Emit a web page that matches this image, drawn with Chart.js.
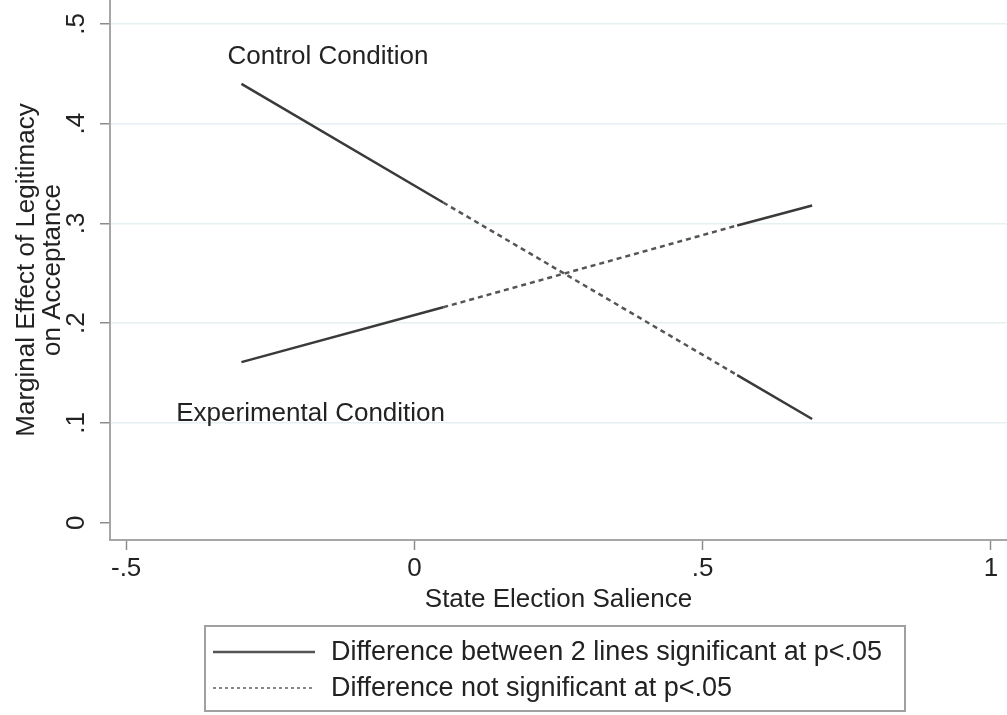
<!DOCTYPE html>
<html>
<head>
<meta charset="utf-8">
<script src="https://cdn.jsdelivr.net/npm/chart.js@4.4.0/dist/chart.umd.min.js"></script>
<style>
  html, body { margin: 0; padding: 0; background: #fff; }
  #wrap { position: relative; width: 1007px; height: 715px; }
  #legend {
    position: absolute; left: 204px; top: 625px; width: 702px; height: 87px;
    box-sizing: border-box; border: 2px solid #a0a0a0;
    font-family: "Liberation Sans", Arial, sans-serif; font-size: 27px; color: #222;
  }
  .row { position: absolute; left: 0; height: 30px; line-height: 30px; white-space: nowrap; }
  .row svg { position: absolute; left: 7px; top: 14px; }
  .row span { position: absolute; left: 125px; top: 0; }
</style>
</head>
<body>
<div id="wrap">
  <canvas id="chart" width="1007" height="715"></canvas>
  <div id="legend">
    <div class="row" style="top:9px">
      <svg width="102" height="4"><line x1="0" y1="2" x2="102" y2="2" stroke="#555" stroke-width="2.5"/></svg>
      <span id="leg0"></span>
    </div>
    <div class="row" style="top:45px">
      <svg width="102" height="4"><line x1="0" y1="2" x2="102" y2="2" stroke="#888" stroke-width="2" stroke-dasharray="3 3"/></svg>
      <span id="leg1"></span>
    </div>
  </div>
</div>
<script>
// datos
const xValues = [-0.3, 0.05, 0.56, 0.69];
const controlValues = [0.44, 0.321, 0.148, 0.104];
const experimentalValues = [0.161, 0.216, 0.298, 0.318];
const xTicks = [-0.5, 0, 0.5, 1];
const yTicks = [0, 0.1, 0.2, 0.3, 0.4, 0.5];
const seriesNames = ['Control Condition', 'Experimental Condition'];
const labelAnchors = [[-0.15, 0.467], [-0.18, 0.109]]; // donde va cada rotulo (x, y)
const legendLabels = ['Difference between 2 lines significant at p<.05', 'Difference not significant at p<.05'];

document.getElementById('leg0').textContent = legendLabels[0];
document.getElementById('leg1').textContent = legendLabels[1];

const FONT = '"Liberation Sans", Arial, sans-serif';
const SIZE = 26;
Chart.defaults.font.family = FONT;
Chart.defaults.font.size = SIZE;
Chart.defaults.color = '#222';

// formato tipo Stata: .5 en vez de 0.5
const fmt = v => String(v).replace('0.', '.');

// segmento del medio punteado (no significativo)
const lineStyle = {
  showLine: true,
  borderColor: '#3a3a3a',
  borderWidth: 2.5,
  pointRadius: 0,
  segment: {
    borderDash: ctx => ctx.p0DataIndex === 1 ? [5, 4] : undefined,
    borderColor: ctx => ctx.p0DataIndex === 1 ? '#555' : undefined
  }
};

// rotulos del eje y girados y nombres de las condiciones
const textPlugin = {
  id: 'textPlugin',
  afterDraw(chart) {
    const { ctx, scales: { x, y } } = chart;
    ctx.save();
    ctx.fillStyle = '#222';
    ctx.font = SIZE + 'px ' + FONT;
    ctx.textAlign = 'center';
    ctx.textBaseline = 'middle';
    yTicks.forEach(v => {
      ctx.save();
      ctx.translate(y.right - 33, y.getPixelForValue(v));
      ctx.rotate(-Math.PI / 2);
      ctx.fillText(fmt(v), 0, 0);
      ctx.restore();
    });
    seriesNames.forEach((name, i) => {
      ctx.fillText(name, x.getPixelForValue(labelAnchors[i][0]), y.getPixelForValue(labelAnchors[i][1]));
    });
    ctx.restore();
  }
};

new Chart(document.getElementById('chart'), {
  type: 'scatter',
  data: {
    datasets: [
      { label: seriesNames[0], data: xValues.map((x, i) => ({ x, y: controlValues[i] })), ...lineStyle },
      { label: seriesNames[1], data: xValues.map((x, i) => ({ x, y: experimentalValues[i] })), ...lineStyle }
    ]
  },
  options: {
    responsive: false,
    animation: false,
    layout: { padding: { left: 0, right: 0, top: 0, bottom: 100 } },
    plugins: { legend: { display: false }, tooltip: { enabled: false } },
    scales: {
      x: {
        type: 'linear',
        min: -0.528,
        max: 1.028,
        afterBuildTicks: s => { s.ticks = xTicks.map(v => ({ value: v })); },
        afterFit: s => { s.height = 75; },
        grid: { drawOnChartArea: false, drawTicks: true, tickLength: 10, tickColor: '#8c8c8c', tickWidth: 1.5 },
        border: { color: '#a6a6a6', width: 2 },
        ticks: { padding: 3, maxRotation: 0, autoSkip: false, callback: v => fmt(v) },
        title: { display: true, text: 'State Election Salience', padding: { top: 0, bottom: 2 }, font: { size: SIZE, lineHeight: 1 } }
      },
      y: {
        type: 'linear',
        min: -0.0173,
        max: 0.524,
        afterBuildTicks: s => { s.ticks = yTicks.map(v => ({ value: v })); },
        afterFit: s => { s.width = 110; },
        grid: {
          color: c => c.tick && c.tick.value === 0 ? 'rgba(0,0,0,0)' : '#e6eff1',
          lineWidth: 1.5,
          tickColor: '#8c8c8c',
          tickLength: 10,
          tickWidth: 1.5
        },
        border: { color: '#a6a6a6', width: 2 },
        ticks: { display: false },
        title: {
          display: true,
          text: ['Marginal Effect of Legitimacy', 'on Acceptance'],
          padding: { top: 14, bottom: 0 },
          font: { size: SIZE, lineHeight: 1 }
        }
      }
    }
  },
  plugins: [textPlugin]
});
</script>
</body>
</html>
